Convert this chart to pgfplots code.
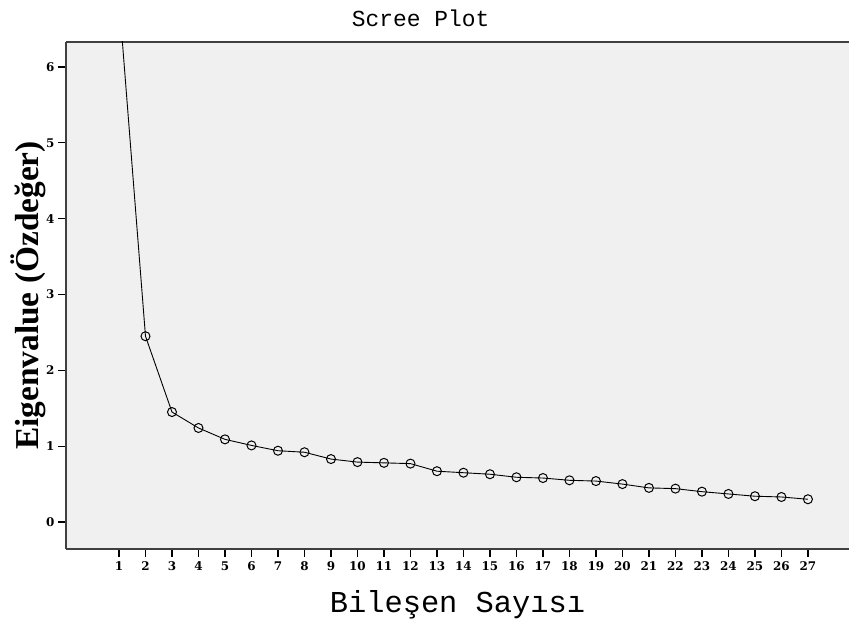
\documentclass[border=0pt]{standalone}
\usepackage{pgfplots}
\pgfplotsset{compat=1.18}
\usepackage{fontspec}
\setmainfont{Liberation Serif}
\newfontfamily\monofont{Liberation Mono}
\newfontfamily\tickfont{DejaVu Serif}

\definecolor{plotbg}{HTML}{F0F0F0}
\definecolor{frame}{HTML}{404040}

\begin{document}
\begin{tikzpicture}
\begin{axis}[
  scale only axis,
  width=783bp, height=507bp,
  xmin=-1, xmax=28.55,
  ymin=-0.356, ymax=6.33,
  xtick={1,...,27},
  ytick={0,...,6},
  axis x line*=box,
  axis y line*=left,
  xtick pos=left, ytick pos=left,
  tick align=outside,
  major tick length=8bp,
  tick style={black, line width=1.2bp},
  axis line style={frame, line width=1.3bp},
  axis background/.style={fill=plotbg},
  /pgf/number format/assume math mode=true,
  tick label style={font=\tickfont\fontsize{12}{12}\selectfont\bfseries},
  xticklabel style={yshift=-1bp},
  title={\monofont\fontsize{23}{23}\selectfont Scree Plot},
  title style={at={(axis description cs:0.453,1)}, anchor=base, yshift=10bp},
  xlabel={\monofont\fontsize{30.5}{30.5}\selectfont Bileşen Sayısı},
  xlabel style={at={(axis description cs:0.5,0)}, anchor=base, yshift=-63bp},
  ylabel={\fontsize{33.5}{33.5}\selectfont\bfseries Eigenvalue (Özdeğer)},
  ylabel style={at={(axis description cs:0,0.5)}, anchor=center, yshift=38bp},
]
\addplot[black, line width=0.9bp, mark=o, mark size=4.5bp,
  mark options={line width=1bp}] coordinates {
  (1,6.9) (2,2.45) (3,1.45) (4,1.24) (5,1.09) (6,1.01) (7,0.94) (8,0.92)
  (9,0.83) (10,0.79) (11,0.78) (12,0.77) (13,0.67) (14,0.65) (15,0.63)
  (16,0.59) (17,0.58) (18,0.55) (19,0.54) (20,0.50) (21,0.45) (22,0.44)
  (23,0.40) (24,0.37) (25,0.34) (26,0.33) (27,0.30)
};
\end{axis}
\pgfresetboundingbox
\useasboundingbox ([shift={(-66bp,-70bp)}]current axis.south west)
  rectangle ([shift={(0bp,42bp)}]current axis.north east);
\end{tikzpicture}
\end{document}
